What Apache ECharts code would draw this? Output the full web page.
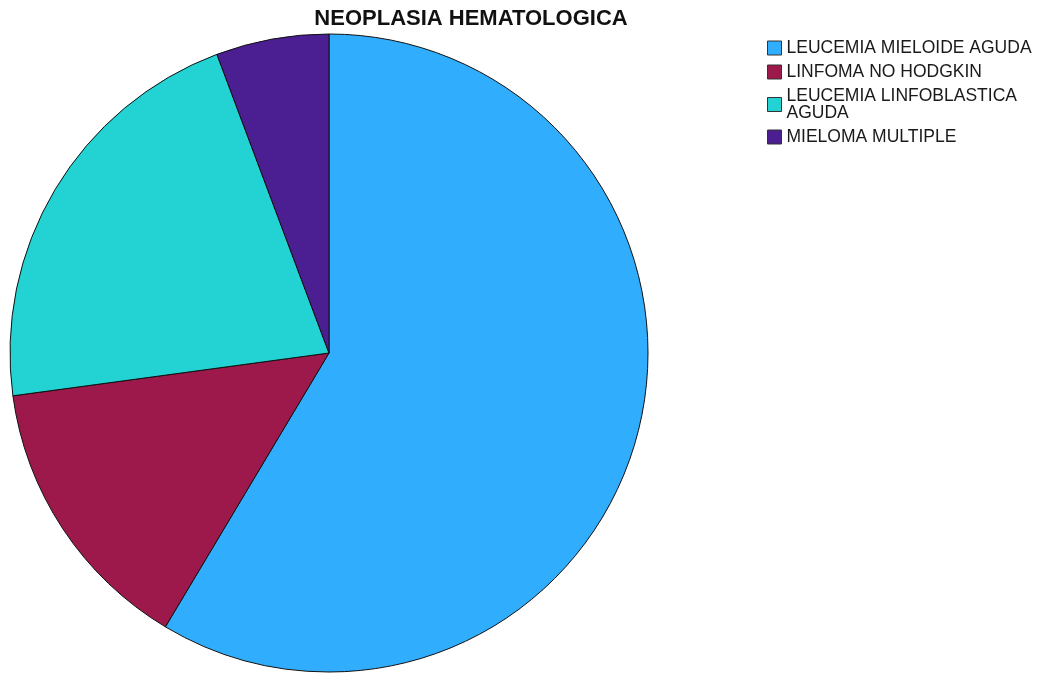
<!DOCTYPE html>
<html>
<head>
<meta charset="utf-8">
<script src="https://cdn.jsdelivr.net/npm/echarts@6/dist/echarts.min.js"></script>
<style>
html,body{margin:0;padding:0;background:#fff;}
#chart{width:1045px;height:673px;}
</style>
</head>
<body>
<div id="chart"></div>
<script>
const titleText = 'NEOPLASIA HEMATOLOGICA';
const categories = ['LEUCEMIA MIELOIDE AGUDA', 'LINFOMA NO HODGKIN', 'LEUCEMIA LINFOBLASTICA AGUDA', 'MIELOMA MULTIPLE'];
const legendLabels = ['LEUCEMIA MIELOIDE AGUDA', 'LINFOMA NO HODGKIN', 'LEUCEMIA LINFOBLASTICA\nAGUDA', 'MIELOMA MULTIPLE'];
const values = [41, 10, 15, 4];
const colors = ['#31ADFE', '#9D194B', '#23D3D3', '#4B1E92'];

const chart = echarts.init(document.getElementById('chart'));
chart.setOption({
  animation: false,
  backgroundColor: '#ffffff',
  title: {
    text: titleText,
    left: 466, textAlign: 'center',
    top: 3,
    textStyle: { fontFamily: 'Liberation Sans, Arial, sans-serif', fontSize: 22, fontWeight: 'bold', color: '#111' }
  },
  legend: {
    orient: 'vertical',
    left: 762,
    top: 34,
    icon: 'rect',
    itemWidth: 14,
    itemHeight: 14,
    itemGap: 6,
    itemStyle: { borderColor: '#333', borderWidth: 1 },
    data: categories,
    formatter: function (name) { return legendLabels[categories.indexOf(name)]; },
    textStyle: { fontFamily: 'Liberation Sans, Arial, sans-serif', fontSize: 17.5, lineHeight: 17, color: '#1a1a1a' }
  },
  series: [{
    type: 'pie',
    center: [329, 353],
    radius: [0, 319],
    startAngle: 90,
    clockwise: true,
    label: { show: false },
    labelLine: { show: false },
    emphasis: { disabled: true },
    itemStyle: { borderColor: '#111', borderWidth: 1 },
    data: categories.map((c, i) => ({ name: c, value: values[i], itemStyle: { color: colors[i] } }))
  }]
});
</script>
</body>
</html>
